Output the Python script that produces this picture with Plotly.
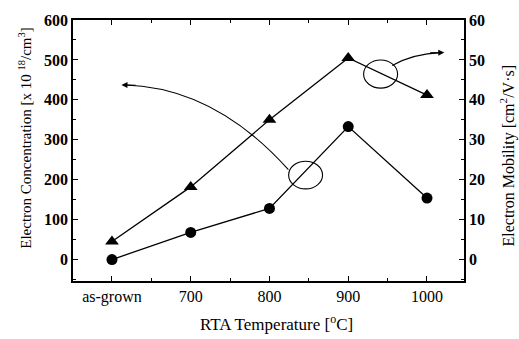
import plotly.graph_objects as go

# ---- data ----
temp_labels = ["as-grown", "700", "800", "900", "1000"]
temp_pos = [600, 700, 800, 900, 1000]
concentration = [0, 68, 128, 333, 154]      # x10^18 /cm^3 (left axis)
mobility = [4.5, 18.2, 35.0, 50.5, 41.2]     # cm^2/V.s (right axis)

conc_ticks = [0, 100, 200, 300, 400, 500, 600]
mob_ticks = [0, 10, 20, 30, 40, 50, 60]

y_range = [-53.7, 600]
x_range = [550.5, 1047]

FONT = "Liberation Serif"

fig = go.Figure()
fig.add_trace(go.Scatter(
    x=temp_pos, y=concentration, mode="lines+markers",
    line=dict(color="black", width=1.3),
    marker=dict(symbol="circle", size=11, color="black"),
    yaxis="y", showlegend=False))
fig.add_trace(go.Scatter(
    x=temp_pos, y=mobility, mode="lines+markers",
    line=dict(color="black", width=1.3),
    marker=dict(symbol="triangle-up", size=12, color="black"),
    yaxis="y2", showlegend=False))

# ellipses marking which curve belongs to which axis
fig.add_shape(type="circle", xref="x", yref="y", x0=824.3, x1=867.4, y0=177, y1=246.3,
              line=dict(color="black", width=1.1))
fig.add_shape(type="circle", xref="x", yref="y", x0=919.5, x1=962.7, y0=429.3, y1=500,
              line=dict(color="black", width=1.1))
# curved arrows
fig.add_shape(type="path", xref="x", yref="y",
              path="M 824,225 Q 730.5,431.2 616,437.3",
              line=dict(color="black", width=1.1))
fig.add_shape(type="path", xref="x", yref="y",
              path="M 955.9,486.1 Q 981.3,515.4 1018,518.4",
              line=dict(color="black", width=1.1))
fig.add_annotation(x=612, y=437.5, ax=632, ay=436.5, xref="x", yref="y",
                   axref="x", ayref="y", text="", showarrow=True,
                   arrowhead=2, arrowsize=1.1, arrowwidth=1.1, arrowcolor="black")
fig.add_annotation(x=1022, y=518.6, ax=1002, ay=517.6, xref="x", yref="y",
                   axref="x", ayref="y", text="", showarrow=True,
                   arrowhead=2, arrowsize=1.1, arrowwidth=1.1, arrowcolor="black")

tickfont = dict(family=FONT, size=16, color="black", weight="bold")

fig.update_layout(
    width=519, height=339,
    margin=dict(l=72.7, r=55, t=13.3, b=58.3),
    plot_bgcolor="white", paper_bgcolor="white",
    xaxis=dict(range=x_range, tickvals=temp_pos, ticktext=temp_labels,
               ticks="inside", ticklen=5, tickwidth=1, tickcolor="black",
               showline=True, linecolor="black", linewidth=1.5, mirror="ticks",
               showgrid=False, zeroline=False,
               tickfont=dict(family=FONT, size=16, color="black"),
               minor=dict(ticks="inside", dtick=50, tick0=550, ticklen=3, tickcolor="black")),
    yaxis=dict(range=y_range, tickvals=conc_ticks,
               ticks="inside", ticklen=5, tickwidth=1, tickcolor="black",
               showline=True, linecolor="black", linewidth=1.5,
               showgrid=False, zeroline=False, tickfont=tickfont,
               minor=dict(ticks="inside", dtick=50, tick0=0, ticklen=3, tickcolor="black")),
    yaxis2=dict(range=[v / 10 for v in y_range], tickvals=mob_ticks, overlaying="y",
                side="right", ticks="inside", ticklen=5, tickwidth=1, tickcolor="black",
                showline=True, linecolor="black", linewidth=1.5,
                showgrid=False, zeroline=False, tickfont=tickfont,
                minor=dict(ticks="inside", dtick=5, tick0=0, ticklen=3, tickcolor="black")),
)

fig.add_annotation(text="RTA Temperature [<sup>o</sup>C]", xref="paper", yref="paper",
                   x=0.52, y=-0.162, yanchor="middle", showarrow=False,
                   font=dict(family=FONT, size=17, color="black"))
fig.add_annotation(text="Electron Concentration [x 10 <sup>18</sup>/cm<sup>3</sup>]",
                   xref="paper", yref="paper", x=-0.122, y=0.55, textangle=-90,
                   xanchor="center", yanchor="middle", showarrow=False,
                   font=dict(family=FONT, size=15, color="black"))
fig.add_annotation(text="Electron Mobility [cm<sup>2</sup>/V·s]",
                   xref="paper", yref="paper", x=1.112, y=0.48, textangle=-90,
                   xanchor="center", yanchor="middle", showarrow=False,
                   font=dict(family=FONT, size=16, color="black"))

fig.write_html("out.html")
